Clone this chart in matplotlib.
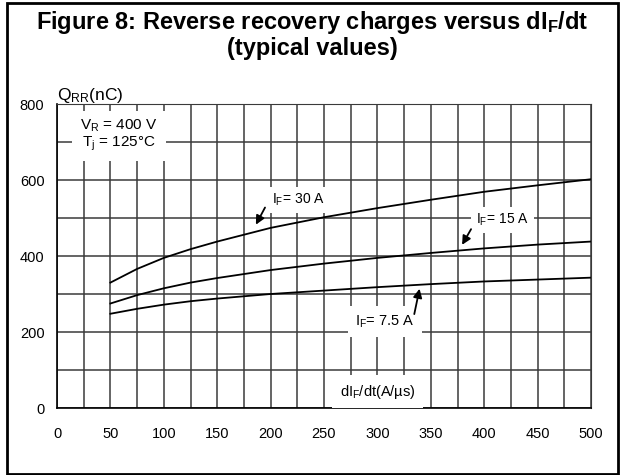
import numpy as np
import matplotlib.pyplot as plt
from matplotlib.patches import Rectangle

plt.rcParams['font.family'] = ['Liberation Sans', 'DejaVu Sans']
plt.rcParams['mathtext.default'] = 'regular'

# data
didt = [50, 75, 100, 125, 150, 200, 250, 300, 350, 400, 450, 500]
qrr_30a = [330, 366, 395, 418, 438, 474, 502, 526, 548, 569, 586, 602]
qrr_15a = [275, 297, 315, 330, 342, 363, 380, 395, 408, 420, 430, 438]
qrr_7a5 = [248, 261, 272, 281, 288, 300, 309, 318, 326, 333, 338, 343]
xticks = [0, 50, 100, 150, 200, 250, 300, 350, 400, 450, 500]
yticks = [0, 200, 400, 600, 800]

W, H = 626, 475
fig = plt.figure(figsize=(W/100, H/100), dpi=100)
ax = fig.add_axes([57/W, 1-408/H, (591-57)/W, (408-104)/H])

# outer frame
fig.patches.append(Rectangle((7/W, 1-474/H), (618-7)/W, (474-3)/H, transform=fig.transFigure,
                             fill=False, lw=2, ec='black'))

fig.text(312/W, 1-22/H, 'Figure 8: Reverse recovery charges versus dI$_F$/dt',
         ha='center', va='center', fontsize=17, fontweight='bold')
fig.text(312/W, 1-49/H, '(typical values)', ha='center', va='center', fontsize=17, fontweight='bold')

ax.plot(didt, qrr_30a, color='black', lw=1.3)
ax.plot(didt, qrr_15a, color='black', lw=1.3)
ax.plot(didt, qrr_7a5, color='black', lw=1.3)

ax.set_xlim(0, 500)
ax.set_ylim(0, 800)
ax.set_xticks(xticks)
ax.set_xticks(np.arange(25, 500, 50), minor=True)
ax.set_yticks(yticks)
ax.set_yticks([100, 300, 500, 700], minor=True)
ax.tick_params(which='both', length=0, labelsize=10.5)
ax.tick_params(axis='x', pad=14)
ax.tick_params(axis='y', pad=9)
ax.set_axisbelow(True)
ax.grid(which='both', color='#3a3a3a', lw=1.1)
for s in ['top', 'right']:
    ax.spines[s].set_color('#3a3a3a')
for s in ['left', 'bottom']:
    ax.spines[s].set_color('black')
    ax.spines[s].set_linewidth(1.2)

ax.text(0, 822, 'Q$_{RR}$(nC)', ha='left', va='center', fontsize=12.5)

box = dict(boxstyle='square,pad=0.35', fc='white', ec='none')
ax.text(58, 718, 'V$_R$ = 400 V\nT$_j$ = 125°C', ha='center', va='center', fontsize=11,
        linespacing=1.0, bbox=dict(boxstyle='square,pad=0.55', fc='white', ec='none'))

ax.text(226, 547, 'I$_F$= 30 A', ha='center', va='center', fontsize=10, bbox=box)
ax.annotate('', xy=(185, 476), xytext=(196, 534),
            arrowprops=dict(arrowstyle='-|>', color='black', lw=1.3, mutation_scale=13))

ax.text(417, 495, 'I$_F$= 15 A', ha='center', va='center', fontsize=10, bbox=box)
ax.annotate('', xy=(378, 423), xytext=(389, 477),
            arrowprops=dict(arrowstyle='-|>', color='black', lw=1.3, mutation_scale=13))

ax.text(307, 228, 'I$_F$= 7.5 A', ha='center', va='center', fontsize=10.5,
        bbox=dict(boxstyle='square,pad=0.5', fc='white', ec='none'))
ax.annotate('', xy=(340, 321), xytext=(334, 240),
            arrowprops=dict(arrowstyle='-|>', color='black', lw=1.3, mutation_scale=13))

ax.text(300, 43, 'dI$_F$/dt(A/µs)', ha='center', va='center', fontsize=10.5,
        bbox=dict(boxstyle='square,pad=0.5', fc='white', ec='none'))

fig.savefig('out.png', dpi=100)
